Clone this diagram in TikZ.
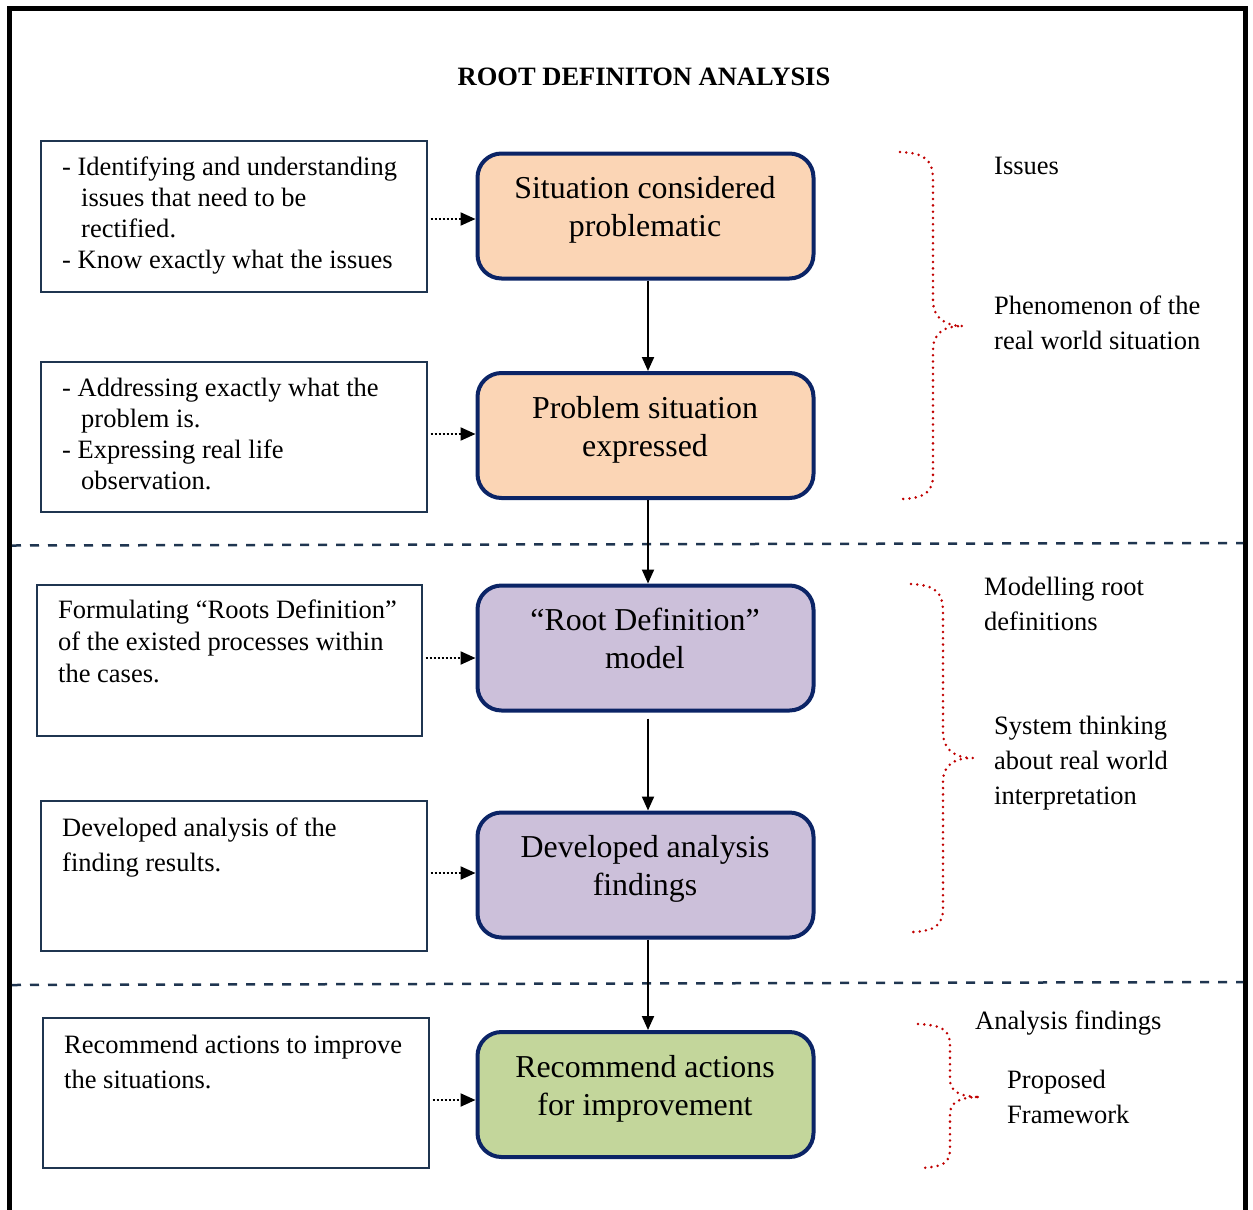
\documentclass[tikz,border=0pt]{standalone}
\usepackage{fontspec}
\setmainfont{Liberation Serif}
\usetikzlibrary{arrows.meta,calc}
\definecolor{navy}{HTML}{0B2466}
\definecolor{slate}{HTML}{1F3550}
\definecolor{peach}{HTML}{FBD5B5}
\definecolor{lilac}{HTML}{CCC0DA}
\definecolor{sage}{HTML}{C3D69B}
\definecolor{bracered}{HTML}{C00000}
\begin{document}
% multi-line text nodes are placed by the baseline of their last line
\begin{tikzpicture}[x=1bp,y=-1bp,
  frame/.style={line width=5bp},
  lbox/.style={draw=slate, line width=2bp, minimum width=385bp, minimum height=150bp, inner sep=0pt},
  mbox/.style={draw=navy, line width=4bp, rounded corners=24bp, minimum width=336bp, minimum height=125bp, inner sep=0pt},
  mtext/.style={anchor=base, align=center, inner sep=0pt, font=\fontsize{32}{38}\selectfont},
  ltext/.style={anchor=base west, align=left, inner sep=0pt, font=\fontsize{26.6}{31}\selectfont},
  lwide/.style={anchor=base west, align=left, inner sep=0pt, font=\fontsize{26.6}{35}\selectfont},
  flow/.style={line width=2bp, -{Triangle[length=14bp,width=12bp]}},
  dotflow/.style={line width=2.2bp, dash pattern=on 2bp off 2bp, -{Triangle[length=15bp,width=13bp]}},
  divider/.style={draw=slate, line width=2.5bp, dash pattern=on 9bp off 9bp},
  curly/.style={draw=bracered, line width=2.8bp, line cap=round, dash pattern=on 0bp off 6.3bp}
]
\useasboundingbox (0,0) rectangle (1253,1210);

% outer frame, open at the bottom
\draw[frame] (9.5,1215) -- (9.5,8.5) -- (1245.8,8.5) -- (1245.8,1215);

\node[anchor=base, inner sep=0pt, font=\fontsize{26.6}{31}\selectfont\bfseries] (title) at (644,85) {ROOT DEFINITON ANALYSIS};

% section dividers
\draw[divider] (12,545.5) -- (1243,543);
\draw[divider] (12,985) -- (1243,982);

% main process boxes
\node[mbox, fill=peach] (b1) at (645.5,216) {};
\node[mbox, fill=peach] (b2) at (645.5,435.5) {};
\node[mbox, fill=lilac] (b3) at (645.5,648) {};
\node[mbox, fill=lilac] (b4) at (645.5,875) {};
\node[mbox, fill=sage]  (b5) at (645.5,1094.5) {};

\node[mtext] (b1t) at (645,236) {Situation considered\\problematic};
\node[mtext] (b2t) at (645,456) {Problem situation\\expressed};
\node[mtext] (b3t) at (645,668) {“Root Definition”\\model};
\node[mtext] (b4t) at (645,895) {Developed analysis\\findings};
\node[mtext] (b5t) at (645,1115) {Recommend actions\\for improvement};

% description boxes
\node[lbox, minimum height=151bp] (l1) at (234,216) {};
\node[lbox] (l2) at (234,436.5) {};
\node[lbox, minimum width=384bp, minimum height=151bp] (l3) at (229.5,660) {};
\node[lbox] (l4) at (234,875.5) {};
\node[lbox] (l5) at (236,1092.5) {};

\node[ltext] (l1t) at (62,268) {- Identifying and understanding\\\hspace*{19bp}issues that need to be\\\hspace*{19bp}rectified.\\- Know exactly what the issues};
\node[ltext] (l2t) at (62,489) {- Addressing exactly what the\\\hspace*{19bp}problem is.\\- Expressing real life\\\hspace*{19bp}observation.};
\node[anchor=base west, align=left, inner sep=0pt, font=\fontsize{26.6}{32}\selectfont] (l3t) at (58,682) {Formulating “Roots Definition”\\of the existed processes within\\the cases.};
\node[lwide] (l4t) at (62,871) {Developed analysis of the\\finding results.};
\node[lwide] (l5t) at (64,1088) {Recommend actions to improve\\the situations.};

% flow between the main boxes
\draw[flow] ([xshift=2.5bp]b1.south) -- ([xshift=2.5bp]b2.north);
\draw[flow] ([xshift=2.5bp]b2.south) -- ([xshift=2.5bp]b3.north);
\draw[flow] ([xshift=2.5bp,yshift=-6bp]b3.south) -- ([xshift=2.5bp]b4.north);
\draw[flow] ([xshift=2.5bp]b4.south) -- ([xshift=2.5bp]b5.north);

% descriptions feeding the main boxes
\coordinate (a1) at ($(l1.east)+(3,3)$);
\coordinate (a2) at ($(l2.east)+(3,-2.5)$);
\coordinate (a3) at ($(l3.east)+(3,-2)$);
\coordinate (a4) at ($(l4.east)+(3,-2.5)$);
\coordinate (a5) at ($(l5.east)+(3,7.5)$);
\draw[dotflow] (a1) -- (a1 -| b1.west);
\draw[dotflow] (a2) -- (a2 -| b2.west);
\draw[dotflow] (a3) -- (a3 -| b3.west);
\draw[dotflow] (a4) -- (a4 -| b4.west);
\draw[dotflow] (a5) -- (a5 -| b5.west);

% grouping braces
\draw[curly] (900,152) .. controls (925,153) and (933,160) .. (933,180) -- (933,300)
  .. controls (933,318) and (945,326) .. (963,326)
  .. controls (945,326) and (933,332) .. (933,350) -- (933,475)
  .. controls (933,492) and (925,498) .. (902,499);
\draw[curly] (911,584) .. controls (935,585) and (943,592) .. (943,612) -- (943,732)
  .. controls (943,750) and (955,758) .. (973,758)
  .. controls (955,758) and (943,764) .. (943,782) -- (943,908)
  .. controls (943,925) and (935,931) .. (913,932);
\draw[curly] (918,1024) .. controls (942,1025) and (950,1030) .. (950,1045) -- (950,1080)
  .. controls (950,1092) and (962,1097) .. (980,1097)
  .. controls (962,1097) and (950,1101) .. (950,1114) -- (950,1150)
  .. controls (950,1163) and (942,1167) .. (921,1168);

% brace captions
\node[lwide] (r1) at (994,174) {Issues};
\node[lwide] (r2) at (994,349) {Phenomenon of the\\real world situation};
\node[lwide] (r3) at (984,630) {Modelling root\\definitions};
\node[lwide] (r4) at (994,804) {System thinking\\about real world\\interpretation};
\node[lwide] (r5) at (975,1029) {Analysis findings};
\node[lwide] (r6) at (1007,1123) {Proposed\\Framework};
\end{tikzpicture}
\end{document}
